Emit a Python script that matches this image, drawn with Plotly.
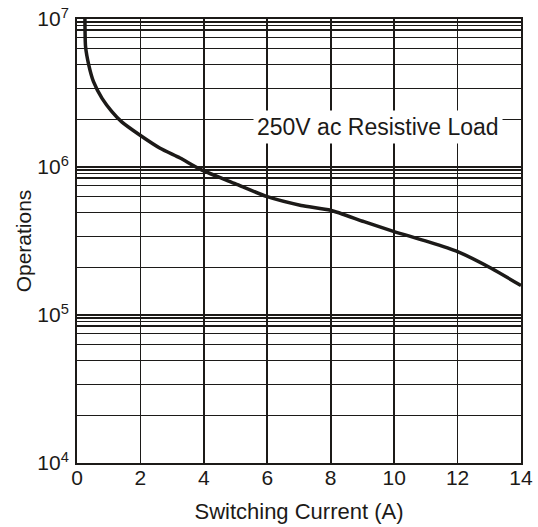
import math
import plotly.graph_objects as go

# Data
current_a = [0.25, 0.27, 0.37, 0.52, 0.79, 1.10, 1.41, 1.99, 2.62, 3.25, 3.91, 5.0, 6.0, 7.07, 8.0, 9.05, 10.0, 11.06, 12.0, 13.06, 14.0]
operations = [1.0e7, 6.5e6, 4.9e6, 3.77e6, 2.91e6, 2.37e6, 2.02e6, 1.64e6, 1.34e6, 1.15e6, 9.6e5, 7.7e5, 6.3e5, 5.5e5, 5.1e5, 4.27e5, 3.66e5, 3.13e5, 2.68e5, 2.07e5, 1.58e5]

x_ticks = [0, 2, 4, 6, 8, 10, 12, 14]
y_major = [1e4, 1e5, 1e6, 1e7]
y_major_text = ["10<sup>4</sup>", "10<sup>5</sup>", "10<sup>6</sup>", "10<sup>7</sup>"]
# minor gridline positions as drawn in the reference (fraction of a decade below each power of ten)
minor_offsets = [0.02, 0.045, 0.075, 0.125, 0.2, 0.306, 0.468, 0.68]
y_minor = [10 ** (d - f) for d in (5, 6, 7) for f in minor_offsets]

label_text = "250V ac Resistive Load"
label_x = 9.5
label_y = 1.86e6

font_family = "Liberation Sans, Arial, sans-serif"
ink = "#1c1a18"

fig = go.Figure()
fig.add_trace(go.Scatter(
    x=current_a, y=operations, mode="lines",
    line=dict(color=ink, width=3.5, shape="spline", smoothing=0.6),
    showlegend=False, hoverinfo="skip",
))

fig.add_annotation(
    x=label_x, y=math.log10(label_y), xref="x", yref="y",
    text=label_text, showarrow=False,
    font=dict(family=font_family, size=23, color=ink),
    bgcolor="white", borderpad=3,
)

fig.update_layout(
    width=538, height=527,
    margin=dict(l=77, r=17, t=19, b=64, autoexpand=False),
    paper_bgcolor="white", plot_bgcolor="white",
    font=dict(family=font_family, size=21, color=ink),
)

fig.update_xaxes(
    range=[0, 14], tickvals=x_ticks, ticktext=[str(v) for v in x_ticks],
    showgrid=True, gridcolor=ink, gridwidth=1.6,
    showline=True, linecolor=ink, linewidth=2, mirror=True,
    ticks="", ticklen=0, zeroline=False, ticklabelstandoff=-5, automargin=False,
    ticklabeloverflow="allow",
    title=dict(text="Switching Current (A)", font=dict(size=22), standoff=15),
)

fig.update_yaxes(
    type="log", range=[4, 7],
    tickvals=y_major, ticktext=y_major_text,
    showgrid=True, gridcolor=ink, gridwidth=2.4,
    minor=dict(tickvals=y_minor, showgrid=True, gridcolor=ink, gridwidth=1.3, ticks=""),
    showline=True, linecolor=ink, linewidth=2, mirror=True,
    ticks="", ticklen=0, zeroline=False, ticklabelstandoff=2, automargin=False,
    ticklabeloverflow="allow",
    title=dict(text="Operations", font=dict(size=21), standoff=0),
)

fig.write_html(
    "out.html",
    config={"displayModeBar": False, "staticPlot": True},
    post_script="document.body.style.margin='0';document.body.style.overflow='hidden';",
)
